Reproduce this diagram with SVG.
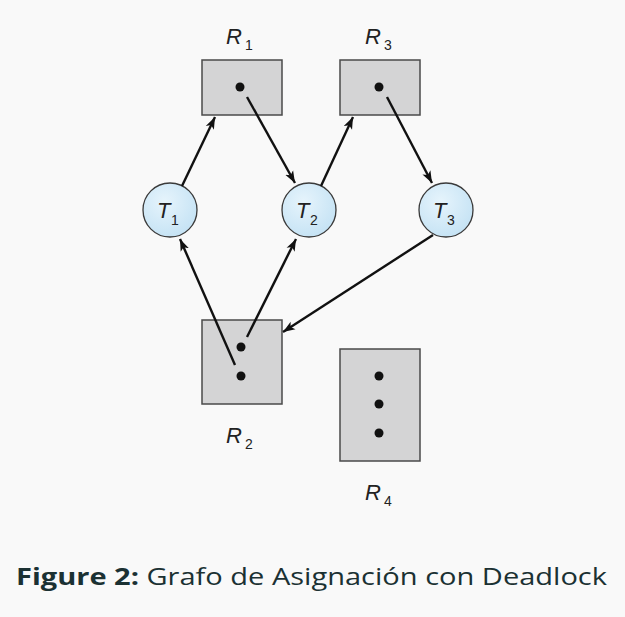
<svg xmlns="http://www.w3.org/2000/svg" width="625" height="617" viewBox="0 0 625 617">
<defs>
<marker id="ah" viewBox="0 0 12 10" refX="12" refY="5" markerWidth="12" markerHeight="10" markerUnits="userSpaceOnUse" orient="auto">
<path d="M0,0.5 L12,5 L0,9.5 L3,5 Z" fill="#111"/>
</marker>
<radialGradient id="tg" cx="0.4" cy="0.35" r="0.7">
<stop offset="0" stop-color="#e6f4fc"/>
<stop offset="1" stop-color="#c4e2f4"/>
</radialGradient>
<style>
.res{fill:#d4d4d5;stroke:#4a4a4a;stroke-width:1.5}
.proc{fill:url(#tg);stroke:#3a3a3a;stroke-width:1.3}
.dot{fill:#111}
.lbl{font-family:"Liberation Sans",Arial,sans-serif;font-style:italic;font-size:22px;fill:#222}
.sub{font-family:"Liberation Sans",Arial,sans-serif;font-size:14px;fill:#222}
.edge{stroke:#111;stroke-width:2.4;fill:none;marker-end:url(#ah)}
.cap{font-family:"Open Sans",sans-serif;font-size:23px;fill:#1b3133}
</style>
</defs>
<rect x="0" y="0" width="625" height="617" fill="#f9f9f9"/>
<g id="R1">
<rect class="res" x="202" y="60" width="80" height="55"/>
<circle class="dot" cx="240" cy="87" r="4.5"/>
<text class="lbl" x="226" y="44">R</text><text class="sub" x="245" y="50">1</text>
</g>
<g id="R3">
<rect class="res" x="340" y="60" width="80" height="55"/>
<circle class="dot" cx="379" cy="87" r="4.5"/>
<text class="lbl" x="365" y="44">R</text><text class="sub" x="384" y="50">3</text>
</g>
<g id="R2">
<rect class="res" x="202" y="320" width="80" height="84"/>
<circle class="dot" cx="241" cy="347" r="4.5"/>
<circle class="dot" cx="241" cy="376" r="4.5"/>
<text class="lbl" x="226" y="443">R</text><text class="sub" x="245" y="449">2</text>
</g>
<g id="R4">
<rect class="res" x="340" y="349" width="80" height="112"/>
<circle class="dot" cx="379" cy="376" r="4.5"/>
<circle class="dot" cx="379" cy="404" r="4.5"/>
<circle class="dot" cx="379" cy="433" r="4.5"/>
<text class="lbl" x="365" y="500">R</text><text class="sub" x="384" y="506">4</text>
</g>
<g id="T1">
<circle class="proc" cx="170" cy="210" r="27"/>
<text class="lbl" x="157" y="218">T</text><text class="sub" x="171" y="225">1</text>
</g>
<g id="T2">
<circle class="proc" cx="309" cy="210" r="27"/>
<text class="lbl" x="296" y="218">T</text><text class="sub" x="310" y="225">2</text>
</g>
<g id="T3">
<circle class="proc" cx="446" cy="210" r="27"/>
<text class="lbl" x="433" y="218">T</text><text class="sub" x="447" y="225">3</text>
</g>
<g id="edges">
<line class="edge" x1="182" y1="186" x2="215" y2="117"/>
<line class="edge" x1="247" y1="97" x2="295" y2="183"/>
<line class="edge" x1="321" y1="186" x2="353" y2="117"/>
<line class="edge" x1="387" y1="97" x2="432" y2="183"/>
<line class="edge" x1="433" y1="235" x2="283" y2="332"/>
<line class="edge" x1="235" y1="365" x2="180" y2="239"/>
<line class="edge" x1="247" y1="337" x2="296" y2="239"/>
</g>
<text class="cap" x="16" y="585" textLength="591" lengthAdjust="spacingAndGlyphs"><tspan font-weight="bold">Figure 2:</tspan> Grafo de Asignación con Deadlock</text>
</svg>
